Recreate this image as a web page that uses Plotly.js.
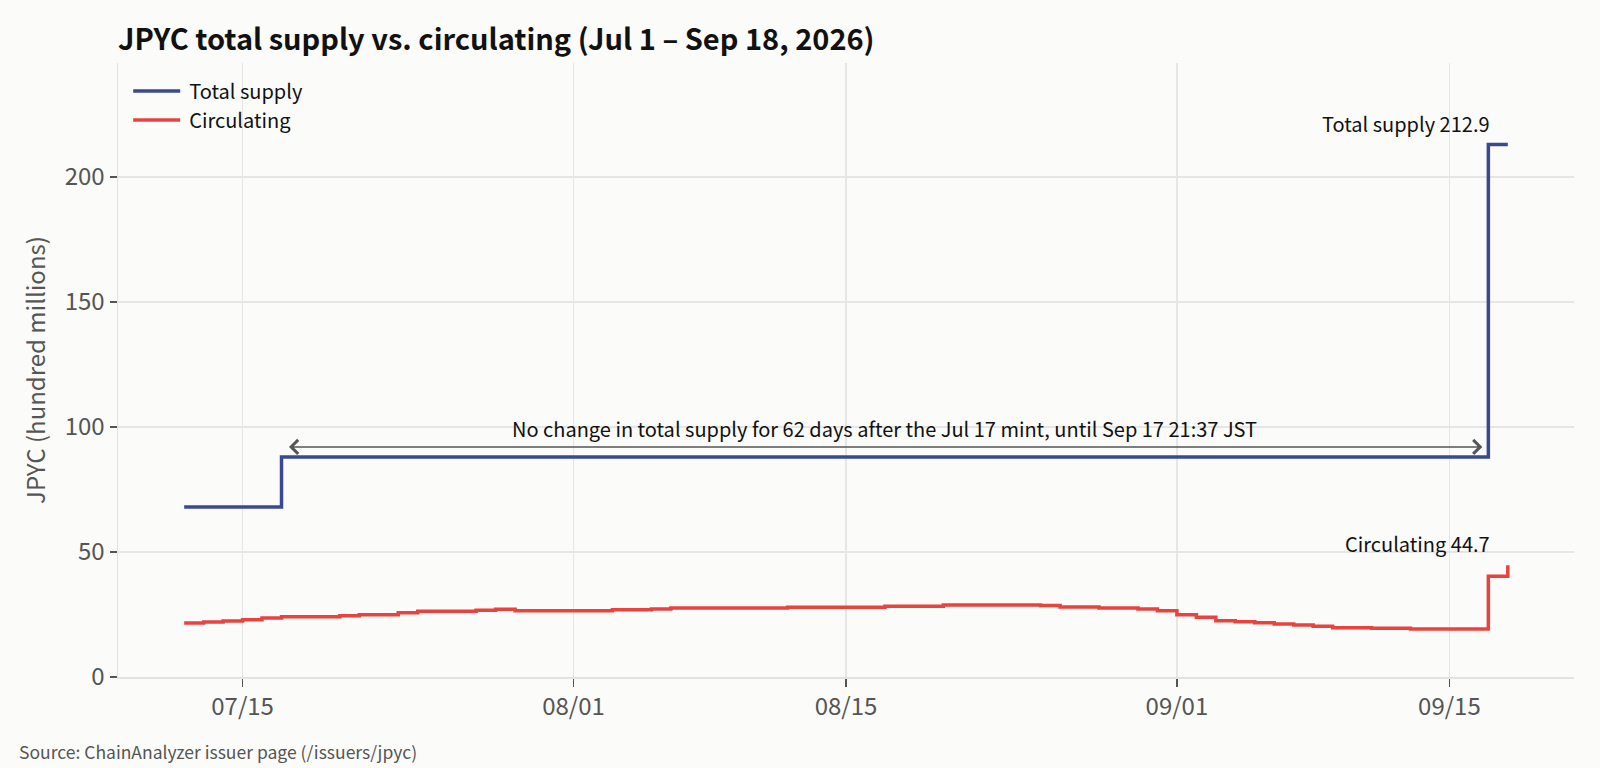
<!DOCTYPE html>
<html>
<head>
<meta charset="utf-8">
<script src="https://cdn.plot.ly/plotly-3.0.1.min.js"></script>
<style>
  html, body { margin: 0; padding: 0; background: #fbfbf9; }
  #chart { width: 1600px; height: 768px; }
</style>
</head>
<body>
<div id="chart"></div>
<script>
    // daily snapshots, hundred millions of JPYC
    var days = [
        '2026-07-12','2026-07-13','2026-07-14','2026-07-15','2026-07-16','2026-07-17','2026-07-18',
        '2026-07-19','2026-07-20','2026-07-21','2026-07-22','2026-07-23','2026-07-24','2026-07-25',
        '2026-07-26','2026-07-27','2026-07-28','2026-07-29','2026-07-30','2026-07-31',
        '2026-08-01','2026-08-02','2026-08-03','2026-08-04','2026-08-05','2026-08-06','2026-08-07',
        '2026-08-08','2026-08-09','2026-08-10','2026-08-11','2026-08-12','2026-08-13','2026-08-14',
        '2026-08-15','2026-08-16','2026-08-17','2026-08-18','2026-08-19','2026-08-20','2026-08-21',
        '2026-08-22','2026-08-23','2026-08-24','2026-08-25','2026-08-26','2026-08-27','2026-08-28',
        '2026-08-29','2026-08-30','2026-08-31',
        '2026-09-01','2026-09-02','2026-09-03','2026-09-04','2026-09-05','2026-09-06','2026-09-07',
        '2026-09-08','2026-09-09','2026-09-10','2026-09-11','2026-09-12','2026-09-13','2026-09-14',
        '2026-09-15','2026-09-16','2026-09-17','2026-09-18'
    ];

    var totalSupply = [
        68.0, 68.0, 68.0, 68.0, 68.0, 88.0, 88.0,
        88.0, 88.0, 88.0, 88.0, 88.0, 88.0, 88.0,
        88.0, 88.0, 88.0, 88.0, 88.0, 88.0,
        88.0, 88.0, 88.0, 88.0, 88.0, 88.0, 88.0,
        88.0, 88.0, 88.0, 88.0, 88.0, 88.0, 88.0,
        88.0, 88.0, 88.0, 88.0, 88.0, 88.0, 88.0,
        88.0, 88.0, 88.0, 88.0, 88.0, 88.0, 88.0,
        88.0, 88.0, 88.0,
        88.0, 88.0, 88.0, 88.0, 88.0, 88.0, 88.0,
        88.0, 88.0, 88.0, 88.0, 88.0, 88.0, 88.0,
        88.0, 88.0, 212.9, 212.9
    ];

    var circulating = [
        21.6, 22.0, 22.4, 22.9, 23.6, 24.1, 24.1,
        24.1, 24.5, 24.9, 24.9, 25.7, 26.3, 26.3,
        26.3, 26.7, 27.1, 26.5, 26.5, 26.5,
        26.5, 26.5, 26.9, 26.9, 27.2, 27.6, 27.6,
        27.6, 27.6, 27.6, 27.6, 27.9, 27.9, 27.9,
        27.9, 27.9, 28.3, 28.3, 28.3, 28.8, 28.8,
        28.8, 28.8, 28.8, 28.6, 28.0, 28.0, 27.6,
        27.6, 27.2, 26.5,
        24.9, 23.9, 22.5, 22.1, 21.7, 21.2, 20.8,
        20.3, 19.7, 19.7, 19.5, 19.5, 19.2, 19.2,
        19.2, 19.2, 40.3, 44.7
    ];

    var tickDays = ['2026-07-15', '2026-08-01', '2026-08-15', '2026-09-01', '2026-09-15'];
    var tickText = ['07/15', '08/01', '08/15', '09/01', '09/15'];
    var yTicks = [0, 50, 100, 150, 200];

    // flat stretch between the two mints
    var flatFrom = '2026-07-17';
    var flatTo = '2026-09-17';
    var flatMid = '2026-08-17';
    var flatNote = 'No change in total supply for 62 days after the Jul 17 mint, until Sep 17 21:37 JST';

    var blue = '#3b4991';
    var red = '#e8433f';
    var grey = '#555555';
    var font = '"Noto Sans CJK JP", "Source Sans Pro", "Noto Sans", sans-serif';

    var lastTotal = totalSupply[totalSupply.length - 1];
    var lastCirc = circulating[circulating.length - 1];

    var trace1 = {
        x: days,
        y: totalSupply,
        mode: 'lines',
        line: {shape: 'hv', color: blue, width: 3.5},
        name: '\u2009Total supply'
    };

    var trace2 = {
        x: days,
        y: circulating,
        mode: 'lines',
        line: {shape: 'hv', color: red, width: 3.5},
        name: '\u2009Circulating'
    };

    var layout = {
        width: 1600,
        height: 768,
        margin: {l: 118, r: 26, t: 63, b: 91},
        paper_bgcolor: '#fbfbf9',
        plot_bgcolor: '#fbfbf9',
        font: {family: font, color: '#111'},
        title: {
            text: '<b>JPYC total supply vs. circulating (Jul 1 – Sep 18, 2026)</b>',
            font: {size: 29, color: '#111'},
            xref: 'paper', x: 0, xanchor: 'left',
            yref: 'container', y: 0.948, yanchor: 'middle'
        },
        showlegend: true,
        legend: {
            x: 0.007, y: 0.986, xanchor: 'left', yanchor: 'top',
            bgcolor: 'rgba(0,0,0,0)',
            font: {size: 20, color: '#111'},
            itemwidth: 47,
            tracegroupgap: 0
        },
        xaxis: {
            type: 'date',
            range: ['2026-07-08 14:24', '2026-09-21 09:36'],
            tickvals: tickDays,
            ticktext: tickText,
            ticks: 'outside', ticklen: 8, tickwidth: 1.5, tickcolor: grey,
            tickfont: {size: 24, color: grey},
            showgrid: true, gridcolor: '#e6e6e6', gridwidth: 1.5,
            showline: true, linecolor: '#e3e3e3', linewidth: 1.5,
            zeroline: false
        },
        yaxis: {
            range: [0, 245.5],
            tickvals: yTicks,
            ticks: 'outside', ticklen: 7, tickwidth: 1.5, tickcolor: grey,
            tickfont: {size: 24, color: grey},
            showgrid: true, gridcolor: '#e6e6e6', gridwidth: 1.5,
            showline: true, linecolor: '#e3e3e3', linewidth: 1.5,
            zeroline: false,
            title: {text: 'JPYC (hundred millions)', font: {size: 24, color: grey}, standoff: 12}
        },
        annotations: [
            {
                x: days[days.length - 2], y: lastTotal,
                text: 'Total supply ' + lastTotal.toFixed(1),
                showarrow: false, xanchor: 'right', yanchor: 'bottom', xshift: 4, yshift: 5,
                font: {size: 20, color: '#111'}
            },
            {
                x: days[days.length - 2], y: lastCirc,
                text: 'Circulating ' + lastCirc.toFixed(1),
                showarrow: false, xanchor: 'right', yanchor: 'bottom', xshift: 4, yshift: 5,
                font: {size: 20, color: '#111'}
            },
            {
                x: flatTo, y: 92, ax: flatFrom, ay: 92,
                xref: 'x', yref: 'y', axref: 'x', ayref: 'y',
                text: '', showarrow: true,
                arrowside: 'end+start', arrowhead: 4, startarrowhead: 4,
                arrowsize: 1.8, startarrowsize: 1.8, arrowwidth: 1.5,
                arrowcolor: grey, standoff: 6, startstandoff: 6
            },
            {
                x: flatMid, y: 92,
                text: flatNote,
                showarrow: false, yanchor: 'bottom', yshift: 2,
                font: {size: 20, color: '#111'}
            },
            {
                xref: 'paper', yref: 'paper', x: -0.0696, y: -0.121,
                xanchor: 'left', yanchor: 'middle',
                text: 'Source: ChainAnalyzer issuer page (/issuers/jpyc)',
                showarrow: false,
                font: {size: 17.5, color: grey}
            }
        ]
    };

    Plotly.newPlot('chart', [trace1, trace2], layout, {displayModeBar: false, staticPlot: true});
</script>
</body>
</html>
